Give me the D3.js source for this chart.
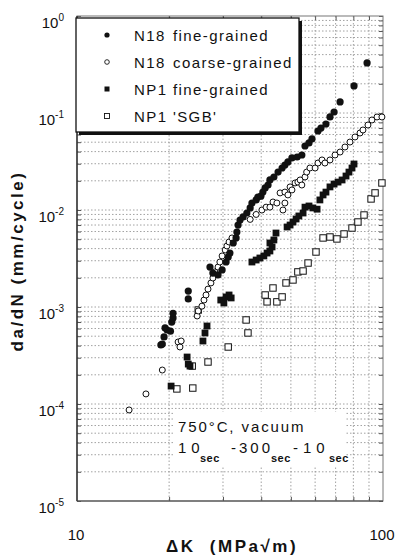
<!DOCTYPE html>
<html>
<head>
<meta charset="utf-8">
<script src="https://cdn.jsdelivr.net/npm/d3@7"></script>
<style>
  body { margin: 0; background: #fff; }
  text { font-family: "Liberation Sans", Arial, sans-serif; fill: #111; }
</style>
</head>
<body>
<div id="chart"></div>
<script>
// [deltaK (MPa√m), da/dN (mm/cycle)]
const n18Fine = [
  [18.8, 4.06e-4], [19.0, 4.15e-4], [19.25, 4.91e-4], [19.4, 6.08e-4], [19.7, 5.79e-4],
  [20.2, 5.63e-4], [20.4, 7.0e-4], [20.6, 7.7e-4], [20.6, 8.6e-4],
  [23.1, 1.46e-3], [23.1, 1.21e-3],
  [27.2, 2.58e-3], [27.8, 2.24e-3], [28.9, 2.14e-3], [29.8, 2.41e-3], [30.7, 2.91e-3],
  [31.2, 3.28e-3], [31.6, 3.6e-3], [32.4, 4.57e-3], [33.1, 5.15e-3], [33.3, 5.93e-3],
  [33.6, 7.0e-3], [34.1, 7.89e-3], [34.9, 8.48e-3], [35.9, 9.31e-3], [36.8, 1.05e-2],
  [37.3, 1.18e-2], [38.5, 1.27e-2], [39.0, 1.36e-2], [39.9, 1.39e-2], [40.5, 1.53e-2],
  [41.2, 1.69e-2], [42.1, 1.81e-2], [42.7, 2.04e-2], [44.0, 2.19e-2], [45.4, 2.46e-2],
  [46.8, 2.71e-2], [47.8, 2.91e-2], [48.9, 3.13e-2], [50.4, 3.44e-2], [52.4, 3.52e-2],
  [54.3, 3.69e-2], [55.6, 4.57e-2], [57.3, 4.91e-2], [58.6, 5.4e-2], [61.3, 6.52e-2],
  [62.7, 7.0e-2], [65.1, 7.7e-2], [67.1, 9.1e-2], [69.2, 0.1024], [72.4, 0.13],
  [80.4, 0.19], [88.7, 0.328]
];
const n18Coarse = [
  [14.8, 8.68e-5], [16.8, 1.27e-4], [19.0, 2.24e-4], [21.4, 4.36e-4], [21.7, 3.87e-4],
  [21.9, 4.46e-4], [24.7, 8.08e-4], [24.9, 9.1e-4], [25.6, 1.02e-3], [26.0, 1.18e-3],
  [26.4, 1.33e-3], [26.8, 1.53e-3], [27.4, 1.77e-3], [27.8, 1.99e-3], [28.2, 2.3e-3],
  [28.9, 2.58e-3], [29.3, 2.91e-3], [29.8, 3.36e-3], [30.5, 3.87e-3], [30.9, 4.26e-3],
  [31.4, 4.68e-3], [32.1, 5.15e-3], [36.8, 8.0e-3], [38.5, 9.0e-3], [40.2, 1.0e-2],
  [41.5, 1.07e-2], [42.7, 1.07e-2], [43.7, 1.21e-2], [45.0, 1.18e-2], [47.1, 1.0e-2],
  [47.8, 1.18e-2], [46.1, 1.5e-2], [47.8, 1.53e-2], [48.9, 1.43e-2], [49.7, 1.73e-2],
  [50.4, 1.61e-2], [51.6, 1.9e-2], [52.7, 1.94e-2], [53.6, 2.04e-2], [54.3, 1.81e-2],
  [55.6, 2.19e-2], [56.3, 2.46e-2], [57.7, 2.71e-2], [60.0, 2.71e-2], [61.3, 3.05e-2],
  [63.2, 3.28e-2], [64.6, 3.05e-2], [67.1, 3.28e-2], [69.7, 3.69e-2], [72.4, 3.96e-2],
  [75.1, 4.46e-2], [78.0, 5.02e-2], [81.0, 5.66e-2], [84.1, 6.22e-2], [86.0, 6.68e-2],
  [89.3, 7.52e-2], [92.0, 8.47e-2], [95.6, 9.1e-2], [99.2, 9.1e-2]
];
const np1Fine = [
  [20.3, 1.53e-4], [22.9, 3.05e-4], [23.1, 2.58e-4], [23.4, 2.46e-4], [25.8, 4.46e-4],
  [26.2, 5.4e-4], [26.6, 6.37e-4], [29.5, 1.18e-3], [30.2, 1.1e-3], [30.7, 1.27e-3],
  [31.4, 1.33e-3], [31.9, 1.24e-3], [37.3, 2.91e-3], [38.5, 3.05e-3], [39.6, 3.2e-3],
  [40.8, 3.36e-3], [41.8, 3.6e-3], [42.7, 3.78e-3], [43.4, 4.16e-3], [42.7, 4.57e-3],
  [44.0, 4.91e-3], [44.7, 5.79e-3], [48.6, 6.68e-3], [49.7, 7.0e-3], [50.8, 7.52e-3],
  [52.0, 8.08e-3], [53.1, 8.68e-3], [54.8, 9.31e-3], [55.6, 1.07e-2], [57.3, 1.1e-2],
  [59.0, 1.05e-2], [60.9, 1.02e-2], [62.2, 1.27e-2], [63.7, 1.43e-2], [65.1, 1.53e-2],
  [67.1, 1.73e-2], [69.2, 1.85e-2], [71.3, 1.94e-2], [73.5, 2.04e-2], [75.7, 2.24e-2],
  [77.4, 2.46e-2], [79.2, 2.71e-2], [80.4, 2.98e-2]
];
const np1Sgb = [
  [21.2, 1.43e-4], [23.9, 1.46e-4], [23.8, 2.46e-4], [24.9, 9.31e-4], [26.8, 2.71e-4],
  [31.2, 3.87e-4], [36.2, 5.4e-4], [35.7, 7.35e-4], [41.2, 1.33e-3], [41.8, 1.13e-3],
  [45.0, 1.13e-3], [46.8, 1.27e-3], [43.7, 1.57e-3], [48.2, 1.77e-3], [50.8, 1.9e-3],
  [52.7, 2.3e-3], [54.8, 2.35e-3], [56.9, 2.84e-3], [60.4, 3.69e-3], [63.7, 5.15e-3],
  [67.1, 5.27e-3], [70.7, 5.03e-3], [74.6, 5.66e-3], [79.2, 6.52e-3], [82.8, 7.52e-3],
  [86.7, 8.88e-3], [91.4, 1.3e-2], [94.2, 1.5e-2], [99.2, 1.9e-2]
];

const seriesNames = ["N18", "N18", "NP1", "NP1 'SGB'"];
const seriesDesc = ["fine-grained", "coarse-grained", "fine-grained", ""];
const yTickExps = [0, -1, -2, -3, -4, -5];
const xTickLabels = [10, 100];

var margin = { top: 16, right: 15, bottom: 56, left: 77 },
  width = 398 - margin.left - margin.right,
  height = 557 - margin.top - margin.bottom;

var svg = d3.select("#chart").append("svg")
  .attr("width", 398).attr("height", 557)
  .append("g")
  .attr("transform", "translate(" + margin.left + "," + margin.top + ")");

var x = d3.scaleLog().domain([10, 100]).range([0, width]);
var y = d3.scaleLog().domain([1e-5, 1]).range([height, 0]);

// minor values for grid
var yGrid = [];
for (let e = -5; e < 0; e++) for (let m = 1; m < 10; m++) yGrid.push(m * Math.pow(10, e));
yGrid.push(1);
var xGrid = [20, 30, 40, 50, 60, 70, 80, 90];

var grid = svg.append("g");
grid.selectAll("line.h").data(yGrid.filter(v => v > 1e-5 && v < 1)).enter()
  .append("line").attr("class", "h")
  .attr("x1", 0).attr("x2", width)
  .attr("y1", d => y(d)).attr("y2", d => y(d))
  .attr("stroke", "#8a8a8a").attr("stroke-width", 0.8).attr("stroke-dasharray", "1.5,2");
grid.selectAll("line.v").data(xGrid).enter()
  .append("line").attr("class", "v")
  .attr("y1", 0).attr("y2", height)
  .attr("x1", d => x(d)).attr("x2", d => x(d))
  .attr("stroke", "#8a8a8a").attr("stroke-width", 0.8).attr("stroke-dasharray", "1.5,2");

// inward ticks
svg.append("g").attr("transform", "translate(0," + height + ")")
  .call(d3.axisBottom(x).tickValues(xGrid).tickSize(-4).tickFormat(""))
  .call(g => g.select(".domain").remove());
svg.append("g")
  .call(d3.axisTop(x).tickValues(xGrid).tickSize(-4).tickFormat(""))
  .call(g => g.select(".domain").remove());
svg.append("g").attr("transform", "translate(" + width + ",0)")
  .call(d3.axisRight(y).tickValues(yGrid).tickSize(-4).tickFormat(""))
  .call(g => g.select(".domain").remove());
svg.append("g")
  .call(d3.axisLeft(y).tickValues(yGrid).tickSize(-4).tickFormat(""))
  .call(g => g.select(".domain").remove());
svg.selectAll(".tick line").attr("stroke", "#555");

// frame
svg.append("rect").attr("width", width).attr("height", height)
  .attr("fill", "none").attr("stroke", "#777").attr("stroke-width", 1);
svg.append("line").attr("x1", 0).attr("x2", 0).attr("y1", 0).attr("y2", height)
  .attr("stroke", "#222").attr("stroke-width", 1.3);
svg.append("line").attr("x1", 0).attr("x2", width).attr("y1", height).attr("y2", height)
  .attr("stroke", "#444").attr("stroke-width", 1.2);

// y tick labels
var yl = svg.append("g").selectAll("text").data(yTickExps).enter().append("text")
  .attr("x", -13).attr("y", d => y(Math.pow(10, d)) + 12)
  .attr("text-anchor", "end").style("font-size", "15px");
yl.append("tspan").text("10");
yl.append("tspan").attr("dy", -7).style("font-size", "10px").text(d => d);

// x tick labels
svg.append("g").selectAll("text").data(xTickLabels).enter().append("text")
  .attr("x", d => x(d) - 1).attr("y", height + 39)
  .attr("text-anchor", "middle").style("font-size", "15px").text(d => d);

// axis titles
svg.append("text")
  .attr("x", 155).attr("y", height + 51)
  .attr("text-anchor", "middle")
  .style("font-size", "17px").style("font-weight", "bold").style("letter-spacing", "2.5px")
  .style("white-space", "pre")
  .text("ΔK  (MPa√m)");
svg.append("text")
  .attr("transform", "translate(" + (-54) + "," + 245 + ") rotate(-90)")
  .attr("text-anchor", "middle")
  .style("font-size", "17px").style("font-weight", "bold").style("letter-spacing", "2.5px")
  .style("white-space", "pre")
  .text("da/dN (mm/cycle)");

// markers
function drawMarkers(g, data, shape, filled, size) {
  const sel = g.selectAll(null).data(data).enter();
  if (shape === "circle") {
    sel.append("circle")
      .attr("cx", d => x(d[0])).attr("cy", d => y(d[1]))
      .attr("r", filled ? size : size - 0.5)
      .attr("fill", filled ? "#111" : "#fff")
      .attr("stroke", "#111").attr("stroke-width", filled ? 0 : 1);
  } else {
    sel.append("rect")
      .attr("x", d => x(d[0]) - size).attr("y", d => y(d[1]) - size)
      .attr("width", size * 2).attr("height", size * 2)
      .attr("fill", filled ? "#111" : "#fff")
      .attr("stroke", "#111").attr("stroke-width", filled ? 0 : 1);
  }
}
var pts = svg.append("g");
drawMarkers(pts, np1Sgb, "square", false, 3.2);
drawMarkers(pts, n18Coarse, "circle", false, 3.5);
drawMarkers(pts, np1Fine, "square", true, 3.4);
drawMarkers(pts, n18Fine, "circle", true, 3.6);

// annotation with white background
svg.append("rect")
  .attr("x", 96).attr("y", 396).attr("width", 172).attr("height", 54)
  .attr("fill", "#fff");
var ann = svg.append("g").style("font-size", "15px");
ann.append("text").attr("x", 101).attr("y", 416)
  .style("letter-spacing", "1.9px").text("750°C,  vacuum");
ann.append("text").attr("x", 101).attr("y", 437).style("letter-spacing", "5px").text("10");
ann.append("text").attr("x", 154).attr("y", 437).style("letter-spacing", "3px").text("-300");
ann.append("text").attr("x", 216).attr("y", 437).style("letter-spacing", "5px").text("-10");
[123, 194, 252].forEach(px => {
  ann.append("text").attr("x", px).attr("y", 446)
    .style("font-size", "11px").style("font-weight", "bold").style("letter-spacing", "0.5px").text("sec");
});

// legend
var lg = svg.append("g");
lg.append("rect").attr("x", 2).attr("y", 5).attr("width", 223).attr("height", 114).attr("fill", "#111");
lg.append("rect").attr("x", -1).attr("y", 2).attr("width", 223).attr("height", 114)
  .attr("fill", "#fff").attr("stroke", "#111").attr("stroke-width", 1.3);
const legendShapes = [["circle", true], ["circle", false], ["square", true], ["square", false]];
legendShapes.forEach((s, i) => {
  const cy = 19 + i * 27;
  if (s[0] === "circle") {
    lg.append("circle").attr("cx", 30).attr("cy", cy).attr("r", s[1] ? 2.6 : 2.3)
      .attr("fill", s[1] ? "#111" : "#fff").attr("stroke", "#111").attr("stroke-width", s[1] ? 0 : 0.9);
  } else {
    lg.append("rect").attr("x", 27.5).attr("y", cy - 2.5).attr("width", 5).attr("height", 5)
      .attr("fill", s[1] ? "#111" : "#fff").attr("stroke", "#111").attr("stroke-width", s[1] ? 0 : 0.9);
  }
  lg.append("text").attr("x", 57).attr("y", cy + 5.5).style("font-size", "15px")
    .style("letter-spacing", "1.4px").text(seriesNames[i]);
  lg.append("text").attr("x", 96).attr("y", cy + 5.5).style("font-size", "15px")
    .style("letter-spacing", "1.4px").text(seriesDesc[i]);
});
</script>
</body>
</html>
